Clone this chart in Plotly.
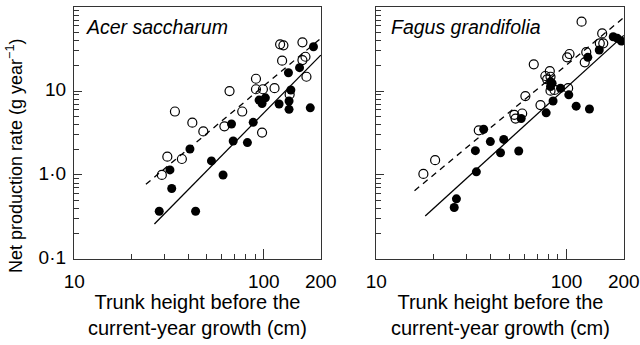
import plotly.graph_objects as go

# ---------------- data ----------------
acer_open_x = [34, 42, 48, 62, 77, 66, 91, 91, 99, 114, 98, 122, 127, 125, 160, 160, 166, 168, 137, 31, 37, 29]
acer_open_y = [5.7, 4.2, 3.3, 3.8, 5.7, 10.0, 14.0, 10.5, 10.5, 10.8, 3.2, 36, 35, 23, 38, 23.4, 25.6, 14.8, 9.1, 1.65, 1.55, 1.0]

acer_filled_x = [40.8, 53, 67.6, 69, 82, 88, 94.5, 98, 102, 120.5, 135, 139, 136, 136, 154.5, 183, 176, 32, 32.7, 28.1, 43.7, 61]
acer_filled_y = [2.04, 1.47, 4.05, 2.54, 2.43, 4.24, 7.8, 7.1, 8.3, 7.0, 16.5, 10.3, 7.6, 6.05, 19.0, 33.7, 6.3, 1.15, 0.69, 0.37, 0.37, 1.0]

fagus_open_x = [120, 154, 149.6, 156, 127, 124.7, 100.8, 103.7, 67.3, 81.7, 77.4, 79.1, 82.4, 82.4, 86.5, 102, 60.8, 73, 53.2, 54, 58.5, 34.6, 20.4, 17.7]
fagus_open_y = [67, 48.6, 37, 37, 29, 22, 25.2, 27.6, 20.8, 17.3, 15.1, 13.8, 14.8, 10.1, 10.3, 10.8, 8.7, 6.8, 5.2, 4.7, 5.4, 3.4, 1.5, 1.03]

fagus_filled_x = [176, 185, 194, 148.6, 129.4, 82.4, 82.4, 84, 93, 85, 78.2, 102.8, 112.4, 132, 57.8, 36.7, 39.8, 46.8, 33.2, 45, 56.1, 33.6, 26.4, 25.7]
fagus_filled_y = [44.3, 42.4, 39.4, 30.8, 25.2, 12.9, 11.3, 12.4, 10.8, 7.6, 5.5, 9.0, 6.6, 6.1, 4.7, 3.5, 2.5, 2.65, 1.95, 1.84, 1.93, 1.09, 0.52, 0.41]

# fitted regression lines (end points)
acer_solid_x = [26.5, 200]
acer_solid_y = [0.26, 26.8]
acer_dash_x = [23.9, 200]
acer_dash_y = [0.775, 42.4]
fagus_solid_x = [18.1, 200]
fagus_solid_y = [0.325, 46]
fagus_dash_x = [15.9, 200]
fagus_dash_y = [0.65, 75]

x_ticks = [10, 100, 200]
x_ticktext = ["10", "100", "200"]
y_ticks = [0.1, 1, 10, 100]
y_ticktext = ["0·1", "1·0", "10", "100"]
x_minor = [20, 30, 40, 50, 60, 70, 80, 90]
y_minor = [m * d for d in (0.1, 1, 10) for m in range(2, 10)]

species = ["Acer saccharum", "Fagus grandifolia"]
x_title = "Trunk height before the<br>current-year growth (cm)"
y_title = "Net production rate (g year<sup>−1</sup>)"

# ---------------- figure ----------------
W, H = 640, 345
FONT = "Liberation Sans, Arial, sans-serif"


def px(xp):
    return xp / W


def py(yp):
    return 1 - yp / H


fig = go.Figure()

panels = [
    ("x", "y", acer_open_x, acer_open_y, acer_filled_x, acer_filled_y,
     acer_solid_x, acer_solid_y, acer_dash_x, acer_dash_y),
    ("x2", "y2", fagus_open_x, fagus_open_y, fagus_filled_x, fagus_filled_y,
     fagus_solid_x, fagus_solid_y, fagus_dash_x, fagus_dash_y),
]
for xa, ya, ox, oy, fx, fy, sx, sy, dx, dy in panels:
    fig.add_trace(go.Scatter(x=dx, y=dy, mode="lines", xaxis=xa, yaxis=ya,
                             line=dict(color="black", width=1.3, dash="6px,5px"),
                             showlegend=False, hoverinfo="skip"))
    fig.add_trace(go.Scatter(x=sx, y=sy, mode="lines", xaxis=xa, yaxis=ya,
                             line=dict(color="black", width=1.3),
                             showlegend=False, hoverinfo="skip"))
    fig.add_trace(go.Scatter(x=ox, y=oy, mode="markers", xaxis=xa, yaxis=ya,
                             marker=dict(symbol="circle-open", size=9, color="black",
                                         line=dict(width=1.2, color="black")),
                             showlegend=False))
    fig.add_trace(go.Scatter(x=fx, y=fy, mode="markers", xaxis=xa, yaxis=ya,
                             marker=dict(symbol="circle", size=9, color="black"),
                             showlegend=False))

xdoms = [[px(74), px(321)], [px(376), px(624)]]
ydom = [py(259), py(7)]

axis_common = dict(type="log", showgrid=False, zeroline=False, showline=True,
                   linecolor="#333", linewidth=1.3, mirror=True, ticks="inside",
                   tickcolor="#333", tickwidth=1.2, automargin=False,
                   tickfont=dict(family=FONT, size=19, color="black"))

for i, (xa, ya) in enumerate([("xaxis", "yaxis"), ("xaxis2", "yaxis2")]):
    anchor_y = "y" if i == 0 else "y2"
    anchor_x = "x" if i == 0 else "x2"
    fig.layout[xa] = dict(axis_common, domain=xdoms[i], anchor=anchor_y,
                          range=[0.999, 2.3021], tickmode="array", tickvals=x_ticks,
                          ticktext=x_ticktext, ticklen=10, ticklabelstandoff=5,
                          minor=dict(tickmode="array", tickvals=x_minor, ticks="inside",
                                     ticklen=5, tickcolor="#333", tickwidth=1.2))
    fig.layout[ya] = dict(axis_common, domain=ydom, anchor=anchor_x,
                          range=[-1.001, 2.001], tickmode="array", tickvals=y_ticks,
                          ticktext=y_ticktext, ticklen=8, ticklabelstandoff=3,
                          ticklabelshift=-2, showticklabels=(i == 0),
                          minor=dict(tickmode="array", tickvals=y_minor, ticks="inside",
                                     ticklen=5, tickcolor="#333", tickwidth=1.2))

annotations = [
    dict(text=species[0], x=px(84), y=py(27), xref="paper", yref="paper",
         xanchor="left", yanchor="middle", showarrow=False,
         font=dict(family=FONT, size=19.5, color="black", style="italic")),
    dict(text=species[1], x=px(389), y=py(27), xref="paper", yref="paper",
         xanchor="left", yanchor="middle", showarrow=False,
         font=dict(family=FONT, size=19.5, color="black", style="italic")),
    dict(text=x_title, x=px((74 + 321) / 2), y=py(315), xref="paper", yref="paper",
         xanchor="center", yanchor="middle", showarrow=False,
         font=dict(family=FONT, size=20, color="black")),
    dict(text=x_title, x=px((376 + 624) / 2), y=py(315), xref="paper", yref="paper",
         xanchor="center", yanchor="middle", showarrow=False,
         font=dict(family=FONT, size=20, color="black")),
    dict(text=y_title, x=px(14), y=py(156), xref="paper", yref="paper",
         xanchor="center", yanchor="middle", textangle=-90, showarrow=False,
         font=dict(family=FONT, size=18, color="black")),
]

fig.update_layout(width=W, height=H, margin=dict(l=0, r=0, t=0, b=0),
                  paper_bgcolor="white", plot_bgcolor="white",
                  annotations=annotations, showlegend=False)

# remove the browser's default 8px body margin so the figure sits at (0, 0)
fig.write_html("out.html", config={"displayModeBar": False},
               post_script="document.body.style.margin='0';document.body.style.overflow='hidden';")
